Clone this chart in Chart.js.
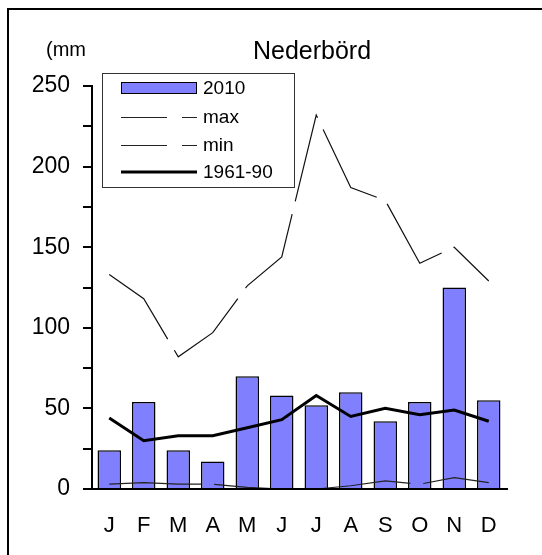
<!DOCTYPE html>
<html>
<head>
<meta charset="utf-8">
<script src="https://cdn.jsdelivr.net/npm/chart.js@4/dist/chart.umd.min.js"></script>
<style>
  html, body { margin: 0; padding: 0; background: #fff; overflow: hidden; }
  #wrap { position: relative; width: 542px; height: 555px; }
  #frame { position: absolute; left: 7px; top: 8px; width: 700px; height: 700px; border: 2px solid #000; box-sizing: border-box; pointer-events: none; }
</style>
</head>
<body>
<div id="wrap">
  <canvas id="c" width="542" height="555"></canvas>
  <div id="frame"></div>
</div>
<script>
const months = ['J','F','M','A','M','J','J','A','S','O','N','D'];
const precip2010 = [24, 54, 24, 17, 70, 58, 52, 60, 42, 54, 125, 55];
const maxVals = [133, 118, 82, 97, 126, 144, 232, 187, 179, 140, 150, 129];
const minVals = [3, 4, 3, 3, 1, 0, 0, 2, 5, 3, 7, 4];
const normal6190 = [44, 30, 33, 33, 38, 43, 58, 45, 50, 46, 49, 42];
const seriesNames = ['2010', 'max', 'min', '1961-90'];
const yTickLabels = [0, 50, 100, 150, 200, 250];
const titleText = 'Nederbörd';
const unitText = '(mm';

const FONT = '"Liberation Sans", Arial, sans-serif';
const BAR_COLOR = '#8080FF';

const extras = {
  id: 'extras',
  afterDraw(chart) {
    const ctx = chart.ctx;
    const area = chart.chartArea;
    ctx.save();
    // full-width x axis line
    ctx.strokeStyle = '#000';
    ctx.lineWidth = 2;
    ctx.beginPath();
    ctx.moveTo(area.left - 9, area.bottom);
    ctx.lineTo(area.right + 2, area.bottom);
    ctx.stroke();

    // title and unit
    ctx.fillStyle = '#000';
    ctx.textBaseline = 'middle';
    ctx.textAlign = 'center';
    ctx.font = '25px ' + FONT;
    ctx.fillText(titleText, 312, 52);
    ctx.textAlign = 'left';
    ctx.font = '20px ' + FONT;
    ctx.fillText(unitText, 46, 50);

    // legend
    const bx = 102.5, by = 73.5, bw = 192, bh = 114;
    ctx.fillStyle = '#fff';
    ctx.fillRect(bx, by, bw, bh);
    ctx.strokeStyle = '#333';
    ctx.lineWidth = 1;
    ctx.strokeRect(bx, by, bw, bh);
    const rows = [88, 117, 145, 172];
    const x0 = 121, x1 = 197;
    // 2010 swatch
    ctx.fillStyle = BAR_COLOR;
    ctx.fillRect(x0, rows[0] - 5.5, x1 - x0, 11);
    ctx.strokeStyle = '#000';
    ctx.strokeRect(x0 + 0.5, rows[0] - 5.5, x1 - x0 - 1, 11);
    // max/min
    for (const r of [rows[1], rows[2]]) {
      ctx.setLineDash([46, 15]);
      ctx.strokeStyle = '#222';
      ctx.lineWidth = 1;
      ctx.beginPath();
      ctx.moveTo(x0, r + 0.5);
      ctx.lineTo(x1, r + 0.5);
      ctx.stroke();
    }
    ctx.setLineDash([]);
    ctx.strokeStyle = '#000';
    ctx.lineWidth = 3;
    ctx.beginPath();
    ctx.moveTo(x0, rows[3]);
    ctx.lineTo(x1, rows[3]);
    ctx.stroke();
    ctx.fillStyle = '#000';
    ctx.font = '19px ' + FONT;
    ctx.textAlign = 'left';
    ctx.textBaseline = 'middle';
    seriesNames.forEach((n, i) => ctx.fillText(n, 203, rows[i] + 1));
    ctx.restore();
  }
};

new Chart(document.getElementById('c'), {
  type: 'bar',
  data: {
    labels: months,
    datasets: [
      {
        type: 'bar', label: seriesNames[0], data: precip2010,
        backgroundColor: BAR_COLOR, borderColor: '#000', borderWidth: 1.5,
        categoryPercentage: 1.0, barPercentage: 0.68, order: 5
      },
      {
        type: 'line', label: seriesNames[1], data: maxVals,
        borderColor: '#111', borderWidth: 1.2, borderDash: [92, 13], borderDashOffset: 3,
        pointRadius: 0, tension: 0, fill: false, order: 2
      },
      {
        type: 'line', label: seriesNames[2], data: minVals,
        borderColor: '#222', borderWidth: 1.2, borderDash: [92, 13],
        pointRadius: 0, tension: 0, fill: false, order: 3
      },
      {
        type: 'line', label: seriesNames[3], data: normal6190,
        borderColor: '#000', borderWidth: 3,
        pointRadius: 0, tension: 0, fill: false, order: 1
      }
    ]
  },
  options: {
    responsive: false,
    animation: false,
    layout: { padding: { top: 86, right: 36, left: 0, bottom: 0 } },
    plugins: { legend: { display: false }, title: { display: false }, tooltip: { enabled: false } },
    scales: {
      x: {
        type: 'category',
        grid: { display: false, drawTicks: false },
        border: { display: false },
        ticks: { color: '#000', font: { family: FONT, size: 22 }, padding: 24, maxRotation: 0, autoSkip: false },
        afterFit(s) { s.height = 66; }
      },
      y: {
        min: 0, max: 250,
        grid: { drawOnChartArea: false, drawTicks: true, tickLength: 9, color: '#000', lineWidth: 2 },
        border: { display: true, color: '#000', width: 2 },
        ticks: {
          stepSize: 25, color: '#000', padding: 13,
          font: { family: FONT, size: 23 },
          callback: (v) => yTickLabels.includes(v) ? String(v) : ''
        },
        afterFit(s) { s.width = 92; }
      }
    }
  },
  plugins: [extras]
});
</script>
</body>
</html>
